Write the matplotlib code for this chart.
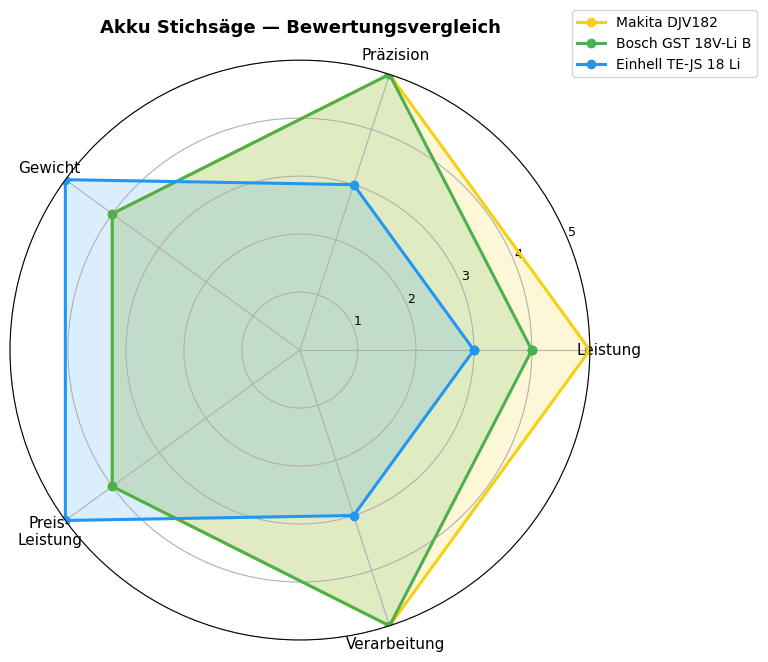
import numpy as np
import matplotlib
matplotlib.use("Agg")
import matplotlib.pyplot as plt

categories = ["Leistung", "Präzision", "Gewicht", "Preis-\nLeistung", "Verarbeitung"]
makita = [5, 5, 4, 4, 5]
bosch = [4, 5, 4, 4, 5]
einhell = [3, 3, 5, 5, 3]
series_names = ["Makita DJV182", "Bosch GST 18V-Li B", "Einhell TE-JS 18 Li"]
colors = ["#f5d10f", "#4caf50", "#2196f3"]
rticks = [1, 2, 3, 4, 5]

fig = plt.figure(figsize=(7.68, 6.62), dpi=100)
ax = fig.add_axes([0.013, 0.0332, 0.755, 0.876], projection="polar")

n = len(categories)
angles = np.linspace(0, 2 * np.pi, n, endpoint=False).tolist()
angles_c = angles + angles[:1]

for name, vals, col in zip(series_names, [makita, bosch, einhell], colors):
    v = vals + vals[:1]
    ax.plot(angles_c, v, color=col, linewidth=2.2, marker="o", markersize=6, label=name)
    ax.fill(angles_c, v, color=col, alpha=0.16)

ax.set_xticks(angles)
ax.set_xticklabels(categories, fontsize=11)
ax.set_ylim(0, 5)
ax.set_yticks(rticks)
ax.set_yticklabels([str(t) for t in rticks], fontsize=9)
ax.grid(color="#b0b0b0", linewidth=0.8)

fig.text(300 / 768, 1 - 28 / 662, "Akku Stichsäge — Bewertungsvergleich",
         ha="center", va="center", fontsize=13, fontweight="bold")
fig.legend(loc="upper right", bbox_to_anchor=(0.995, 0.995), fontsize=10)

fig.savefig("out.png", dpi=100)
